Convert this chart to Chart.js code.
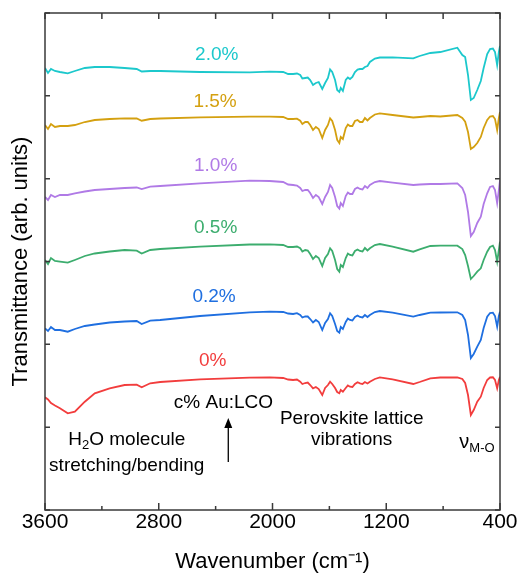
<!DOCTYPE html>
<html>
<head>
<meta charset="utf-8">
<script src="https://cdn.jsdelivr.net/npm/chart.js@4"></script>
<style>
  body { margin: 0; background: #fff; }
  #wrap { width: 532px; height: 578px; }
</style>
</head>
<body>
<div id="wrap"><canvas id="ftirChart" width="532" height="578"></canvas></div>
<script>
// wavenumber grid (cm-1), shared by all spectra
const wavenumbers = [3600, 3579, 3558, 3530, 3495, 3440, 3390, 3320, 3250, 3145, 3040, 2955, 2920, 2860, 2790, 2510, 2160, 2020,
  1925, 1890, 1855, 1828, 1805, 1790, 1770, 1752, 1735, 1715, 1695, 1675, 1650, 1630, 1610, 1595, 1580, 1560, 1545, 1530, 1520, 1505, 1485, 1470, 1455, 1438, 1420, 1402, 1385, 1367, 1350, 1332, 1315, 1280, 1245,
  1155, 1010, 965, 890, 820, 700, 665, 645, 625, 605, 585, 560, 535, 515, 490, 470, 450, 435, 420, 408, 400];

// offset transmittance, arb. units
const trans0 = [112.7, 110.5, 107, 104.5, 101.7, 96.7, 98.3, 108.3, 116.7, 121.7, 125, 125.3, 122.7, 126.7, 128, 130.7, 132.3, 132.7,
  132, 130.5, 130, 130.5, 128.3, 126, 127, 127.5, 125, 121.7, 123, 121, 115, 122, 125, 128.3, 126, 122, 118, 116.7, 120, 118.3, 122, 124.5, 123.3, 123, 126, 127.8, 126.7, 126, 128, 126.5, 128.3, 131, 132.7,
  130.7, 126, 128, 131.7, 132.5, 132.7, 131, 127, 115, 95, 100, 108.3, 113.3, 122, 130, 132.5, 132.7, 130, 121.7, 130, 133.3];
const trans02 = [181.7, 179, 183, 180, 180, 178.3, 181, 184, 185.5, 187.5, 188.5, 189, 186, 189.3, 190, 194, 197.7, 198.3,
  198, 196.5, 196, 196.8, 195, 192.5, 193.5, 193.5, 191, 187.5, 190, 188, 180, 187, 191, 196.7, 194, 186, 179, 177.3, 183, 181, 188, 191.5, 190, 189.5, 193, 194.5, 193, 192.5, 195, 193, 195, 198, 199,
  197.3, 193.3, 195, 197.3, 197.5, 197.7, 195, 190, 175, 152, 156, 163.3, 170, 182, 193.3, 197, 197.3, 194, 183.3, 194, 198.3];
const trans05 = [250, 246, 252, 249, 248.3, 247.3, 250, 254, 256.5, 258.5, 260, 259.3, 256.5, 260, 261, 263.3, 265.5, 265.7,
  265, 263, 263, 263.5, 261.7, 258.5, 260, 259.5, 256, 251, 254, 252, 244, 252, 256, 261.7, 259, 250, 241, 238.3, 245, 243, 252, 256.5, 255, 254.5, 259, 260.5, 259, 258.5, 262, 259.5, 261.7, 265, 266,
  263.3, 258.3, 260.7, 264, 264.3, 264.3, 261, 255, 244, 231, 234, 238.3, 241.7, 250, 258.3, 263, 264.3, 260, 248.3, 260, 268.3];
const trans10 = [313, 310, 315, 313, 315, 315, 316.7, 318.5, 320, 321, 322, 322.5, 321, 323.3, 324, 326.7, 329.3, 329,
  328, 325.5, 325, 324.5, 322, 319, 320, 320, 317, 312, 315, 313, 306, 313, 318, 325, 322, 313, 304, 301.5, 307, 304, 314, 317.5, 316, 316, 321, 322.5, 321, 320.5, 324, 322, 325, 328, 329,
  327.3, 325, 325.5, 326, 326, 326.7, 322, 315, 298, 274, 278, 287, 293.3, 306, 316.7, 323, 324, 320, 307, 320, 330];
const trans15 = [385, 381, 386, 383, 384, 384, 385, 388, 390, 391, 391.7, 391.5, 389.3, 391, 391.5, 392.7, 393.3, 393.3,
  393, 391, 391, 391.3, 389.3, 386, 388, 388, 385, 380, 383, 381, 372, 380, 385, 391.7, 389, 380, 370, 367, 373, 371, 382, 385.5, 384, 384, 389, 390, 388, 388, 392, 389.5, 392, 395.5, 396.7,
  395, 392.5, 393, 394, 393.5, 395, 392, 388.3, 378, 361, 363, 367, 373, 382, 390, 393.5, 394, 391, 380, 392, 398];
const trans20 = [442, 437, 441, 439, 438, 436.7, 439, 442, 443, 443, 442, 441, 438.5, 439, 439, 438, 437.7, 438.3,
  438, 436, 436, 436.5, 435, 431.5, 432, 432.5, 430, 425, 427, 428, 421, 427, 432, 440.5, 438, 430, 420, 418, 422, 419, 430, 432.5, 431, 433, 438, 440.5, 441, 441, 443, 444, 448, 451.5, 452.5,
  452.7, 451.7, 454, 457, 458, 462.3, 455, 453, 435, 410, 412, 420, 429, 442, 456, 461, 461.5, 458, 445, 458, 464];

const concLabels = ['0%', '0.2%', '0.5%', '1.0%', '1.5%', '2.0%'];
const spectra = [trans0, trans02, trans05, trans10, trans15, trans20];
const colors = ['#f23d3d', '#1f6fe0', '#3cad6e', '#b07ae6', '#d4a010', '#1cc8cc'];

// where the concentration labels sit (wavenumber, level)
const labelAt = [[2420, 149], [2411, 213], [2400, 282], [2400, 344], [2404, 408], [2392, 455]];

const FONT = '"Liberation Sans", Arial, sans-serif';

const notes = [
  { parts: [['c% Au:LCO', 19, 0]], x: 2345, y: 107 },
  { parts: [['H', 19, 0], ['2', 13, 5], ['O molecule', 19, 0]], x: 3025, y: 70 },
  { parts: [['stretching/bending', 19, 0]], x: 3025, y: 44 },
  { parts: [['Perovskite lattice', 19, 0]], x: 1443, y: 91 },
  { parts: [['vibrations', 19, 0]], x: 1443, y: 70 },
  { parts: [['\u03bd', 20, 0], ['M-O', 13, 6]], x: 562, y: 68 }
];

function drawRich(ctx, parts, cx, cy) {
  let w = 0;
  parts.forEach(p => { ctx.font = p[1] + 'px ' + FONT; w += ctx.measureText(p[0]).width; });
  let x0 = cx - w / 2;
  parts.forEach(p => {
    ctx.font = p[1] + 'px ' + FONT;
    ctx.fillText(p[0], x0, cy + p[2]);
    x0 += ctx.measureText(p[0]).width;
  });
}

const framePlugin = {
  id: 'frame',
  afterDatasetsDraw(chart) {
    const { ctx, chartArea: a, scales: { x, y } } = chart;
    ctx.save();
    ctx.strokeStyle = '#3a3a3a';
    ctx.lineWidth = 1.5;
    ctx.strokeRect(a.left, a.top, a.right - a.left, a.bottom - a.top);
    ctx.beginPath();
    x.ticks.forEach(t => {
      const px = x.getPixelForValue(t.value);
      const len = (3600 - t.value) % 800 === 0 ? 7 : 4;
      ctx.moveTo(px, a.bottom); ctx.lineTo(px, a.bottom - len);
      ctx.moveTo(px, a.top); ctx.lineTo(px, a.top + 6);
    });
    y.ticks.forEach(t => {
      const py = y.getPixelForValue(t.value);
      ctx.moveTo(a.left, py); ctx.lineTo(a.left + 5, py);
      ctx.moveTo(a.right, py); ctx.lineTo(a.right - 5, py);
    });
    ctx.stroke();

    ctx.textBaseline = 'middle';
    ctx.textAlign = 'center';
    ctx.font = '19px ' + FONT;
    concLabels.forEach((lab, i) => {
      ctx.fillStyle = colors[i];
      ctx.fillText(lab, x.getPixelForValue(labelAt[i][0]), y.getPixelForValue(labelAt[i][1]));
    });

    ctx.fillStyle = '#000';
    ctx.textAlign = 'left';
    notes.forEach(n => drawRich(ctx, n.parts, x.getPixelForValue(n.x), y.getPixelForValue(n.y)));

    // arrow
    const ax = x.getPixelForValue(2311);
    const y0 = y.getPixelForValue(48), y1 = y.getPixelForValue(92);
    ctx.strokeStyle = '#000';
    ctx.lineWidth = 1.3;
    ctx.beginPath();
    ctx.moveTo(ax, y0); ctx.lineTo(ax, y1 + 8);
    ctx.stroke();
    ctx.beginPath();
    ctx.moveTo(ax, y1); ctx.lineTo(ax - 4, y1 + 10); ctx.lineTo(ax + 4, y1 + 10);
    ctx.closePath();
    ctx.fill();
    ctx.restore();
  }
};

const datasets = spectra.map((vals, i) => ({
  label: concLabels[i],
  data: wavenumbers.map((w, j) => ({ x: w, y: vals[j] })),
  borderColor: colors[i],
  borderWidth: 1.8,
  pointRadius: 0,
  tension: 0,
  fill: false
}));

new Chart(document.getElementById('ftirChart').getContext('2d'), {
  type: 'line',
  data: { datasets },
  plugins: [framePlugin],
  options: {
    responsive: false,
    animation: false,
    layout: { padding: { top: 13, right: 32, left: 0, bottom: 0 } },
    plugins: { legend: { display: false }, tooltip: { enabled: false } },
    scales: {
      x: {
        type: 'linear', reverse: true, min: 400, max: 3600,
        ticks: {
          stepSize: 400, autoSkip: false, maxRotation: 0, padding: 0, color: '#000',
          font: { family: FONT, size: 21 },
          callback: v => (3600 - v) % 800 === 0 ? String(v) : ''
        },
        grid: { display: false, drawTicks: false },
        border: { display: false },
        title: { display: true, text: 'Wavenumber (cm\u207b\u00b9)', color: '#000',
          font: { family: FONT, size: 22 }, padding: { top: 0, bottom: 3 } },
        afterFit: s => { s.height = 68; }
      },
      y: {
        min: 0, max: 497,
        ticks: { display: false },
        grid: { display: false, drawTicks: false },
        border: { display: false },
        afterBuildTicks: s => { s.ticks = [0, 1, 2, 3, 4, 5, 6].map(i => ({ value: i * 497 / 6 })); },
        title: { display: true, text: 'Transmittance (arb. units)', color: '#000',
          font: { family: FONT, size: 22 }, padding: { top: 8, bottom: 0 } },
        afterFit: s => { s.width = 45; }
      }
    }
  }
});
</script>
</body>
</html>
